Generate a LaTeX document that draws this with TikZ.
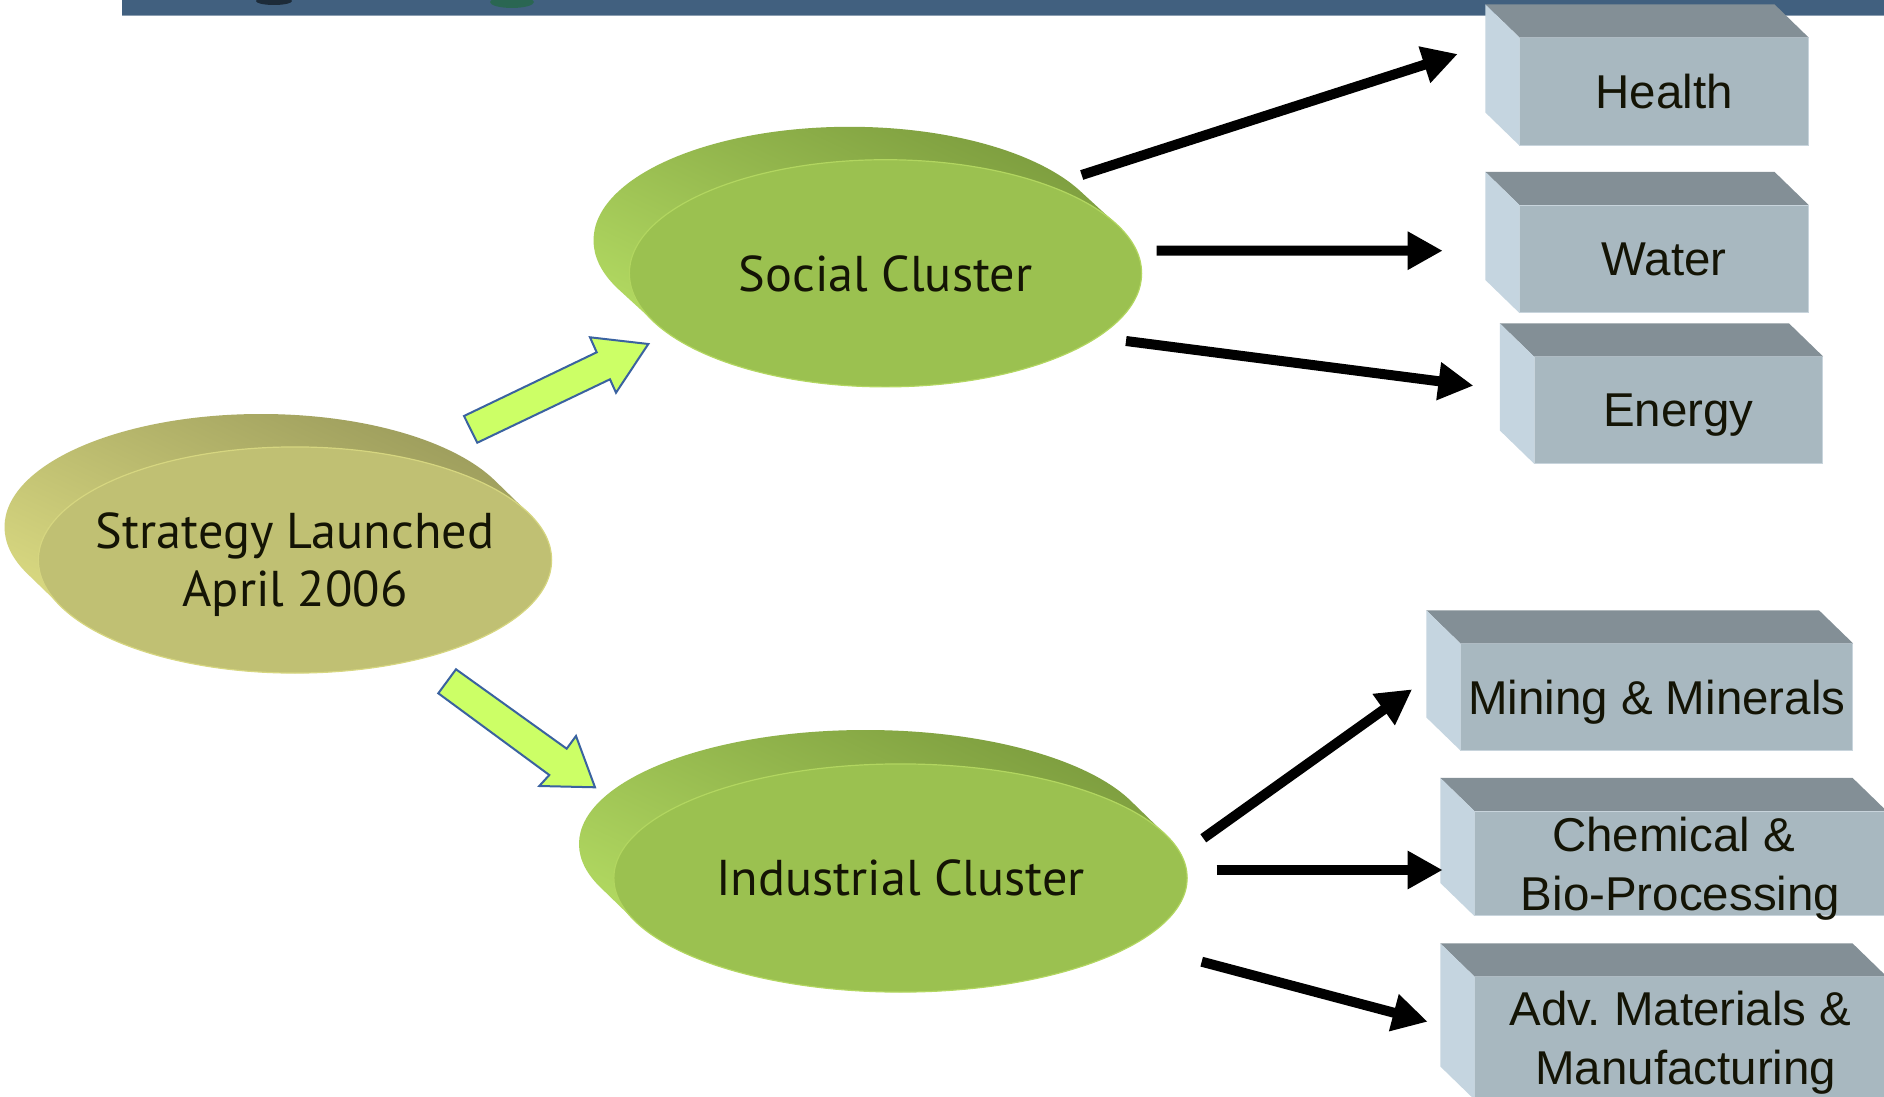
\documentclass[tikz,border=0pt]{standalone}
\usepackage{fontspec}
\setmainfont{Liberation Sans}
\newfontfamily\ptsans{PT Sans}
\usetikzlibrary{shapes.geometric,arrows.meta,calc}

\definecolor{barblue}{RGB}{65,96,127}
\definecolor{barline}{RGB}{138,157,176}
\definecolor{greenface}{RGB}{155,193,80}
\definecolor{greenlight}{RGB}{182,222,100}
\definecolor{greendark}{RGB}{124,156,62}
\definecolor{greenrim}{RGB}{178,214,96}
\definecolor{oliveface}{RGB}{192,192,115}
\definecolor{olivelight}{RGB}{222,222,132}
\definecolor{olivedark}{RGB}{156,156,92}
\definecolor{oliverim}{RGB}{214,214,128}
\definecolor{boxfront}{RGB}{168,184,192}
\definecolor{boxtop}{RGB}{131,143,150}
\definecolor{boxside}{RGB}{197,213,224}
\definecolor{boxedge}{RGB}{200,212,220}
\definecolor{arrowfill}{RGB}{204,255,102}
\definecolor{arrowline}{RGB}{58,98,160}
\definecolor{txt}{RGB}{20,20,5}

\tikzset{
  disc/.style={ellipse, inner sep=0pt, line width=0.012cm},
  etext/.style={font=\ptsans\fontsize{14.3}{16.5}\selectfont, align=center, text=txt,
                text depth=0pt, inner sep=0pt},
  boxnode/.style={rectangle, fill=boxfront, draw=boxedge, line width=0.01cm, inner sep=0pt,
                  font=\fontsize{13.5}{16.8}\selectfont, align=center, text=txt,
                  text depth=0pt},
  blk/.style={draw=black, line width=0.1cm, -{Triangle[length=0.35cm,width=0.36cm]}},
  garrow/.style={fill=arrowfill, draw=arrowline, line width=0.02cm, line join=miter},
}

% side of an extruded ellipse: cx cy rx ry dx dy shading-options
\newcommand\discside[7]{%
  \shade[#7] \foreach \i in {0,...,24} {({#1+\i/24*#5},{#2+\i/24*#6}) ellipse [x radius=#3, y radius=#4]};%
}
% top and left faces of a 3D box whose front face is node #1
\newcommand\boxfaces[1]{%
  \fill[boxtop] (#1.north west) -- ++(-34,-33) -- ($(#1.north east)+(-34,-33)$) -- (#1.north east) -- cycle;
  \fill[boxside] (#1.north west) -- ++(-34,-33) -- ($(#1.south west)+(-34,-33)$) -- (#1.south west) -- cycle;
}

\begin{document}
\frenchspacing
\begin{tikzpicture}[x=0.01cm, y=-0.01cm]
\useasboundingbox (0,0) rectangle (1884,1097);
\fill[white] (0,0) rectangle (1884,1097);

% top banner
\fill[barblue] (122,0) rectangle (1884,16);
\fill[black, opacity=0.55] (274,1) ellipse [x radius=18, y radius=4];
\fill[green!45!black, opacity=0.35] (512,2) ellipse [x radius=22, y radius=6];
\draw[barline, line width=0.015cm] (122,15.5) -- (1884,15.5);

% extruded discs (sides)
\discside{295}{560}{256.5}{113}{-34}{-33}{top color=olivedark, bottom color=olivelight, shading angle=-25}
\discside{885.5}{273.3}{256}{113.5}{-36}{-33}{top color=greendark, bottom color=greenlight, shading angle=-25}
\discside{900.5}{878}{286.5}{114}{-35}{-34}{top color=greendark, bottom color=greenlight, shading angle=-25}

% disc faces
\node[disc, fill=oliveface, draw=oliverim, minimum width=5.13cm, minimum height=2.26cm] (strat) at (295,560) {};
\node[disc, fill=greenface, draw=greenrim, minimum width=5.12cm, minimum height=2.27cm] (social) at (885.5,273.3) {};
\node[disc, fill=greenface, draw=greenrim, minimum width=5.73cm, minimum height=2.28cm] (indus) at (900.5,878) {};

\node[etext] (strattxt) at (strat.center) {Strategy Launched\\April 2006};
\node[etext] (socialtxt) at (social.center) {Social Cluster};
\node[etext] (industxt) at (indus.center) {Industrial Cluster};

% boxes
\node[boxnode, minimum width=2.88cm, minimum height=1.07cm] (health) at (1664,91.5) {Health};
\node[boxnode, minimum width=2.88cm, minimum height=1.07cm] (water) at (1664,259) {Water};
\node[boxnode, minimum width=2.88cm, minimum height=1.06cm] (energy) at (1678.5,410) {Energy};
\node[boxnode, minimum width=3.915cm, minimum height=1.06cm] (mining) at (1656.8,697) {Mining \& Minerals};
\node[boxnode, minimum width=4.11cm, minimum height=1.04cm] (chem) at (1680.5,863.5) {Chemical \&\hspace*{4pt}\\Bio-Processing};
\node[boxnode, minimum width=4.11cm, minimum height=1.22cm] (adv) at (1680.5,1038) {Adv.\ Materials \&\\\hspace*{3pt}Manufacturing};
\boxfaces{health}
\boxfaces{water}
\boxfaces{energy}
\boxfaces{mining}
\boxfaces{chem}
\boxfaces{adv}

% green block arrows
\draw[garrow] (464,416) -- (596.7,352.3) -- (590,337.3) -- (648.3,344) -- (616,392.7) -- (610,379.3) -- (477.3,442.7) -- cycle;
\draw[garrow] (456,669.3) -- (566.7,748.7) -- (576,736) -- (595,787.3) -- (539.3,786) -- (549.3,775) -- (438.3,693.3) -- cycle;

% connector end points
\coordinate (a1s) at ($(social.center)+(196.2,-98.3)$);
\coordinate (a2s) at ($(social.center)+(271.2,-22.6)$);
\coordinate (a3s) at ($(social.center)+(240.5,67.7)$);
\coordinate (a1e) at ($(health.west)+(-61.7,-37.5)$);
\coordinate (a2e) at ($(water.west)+(-76.7,-8.3)$);
\coordinate (a3e) at ($(energy.west)+(-60.5,-24.3)$);
\coordinate (a4s) at ($(indus.center)+(302.8,-39.7)$);
\coordinate (a5s) at ($(indus.center)+(316.2,-8)$);
\coordinate (a6s) at ($(indus.center)+(301.2,83.7)$);
\coordinate (a4e) at ($(mining.west)+(-48.3,-7.7)$);
\coordinate (a5e) at ($(chem.west)+(-31.7,6.5)$);
\coordinate (a6e) at ($(adv.west)+(-46.7,-16.3)$);

% black arrows
\draw[blk] (a1s) -- (a1e);
\draw[blk] (a2s) -- (a2e);
\draw[blk] (a3s) -- (a3e);
\draw[blk] (a4s) -- (a4e);
\draw[blk] (a5s) -- (a5e);
\draw[blk] (a6s) -- (a6e);
\end{tikzpicture}
\end{document}
